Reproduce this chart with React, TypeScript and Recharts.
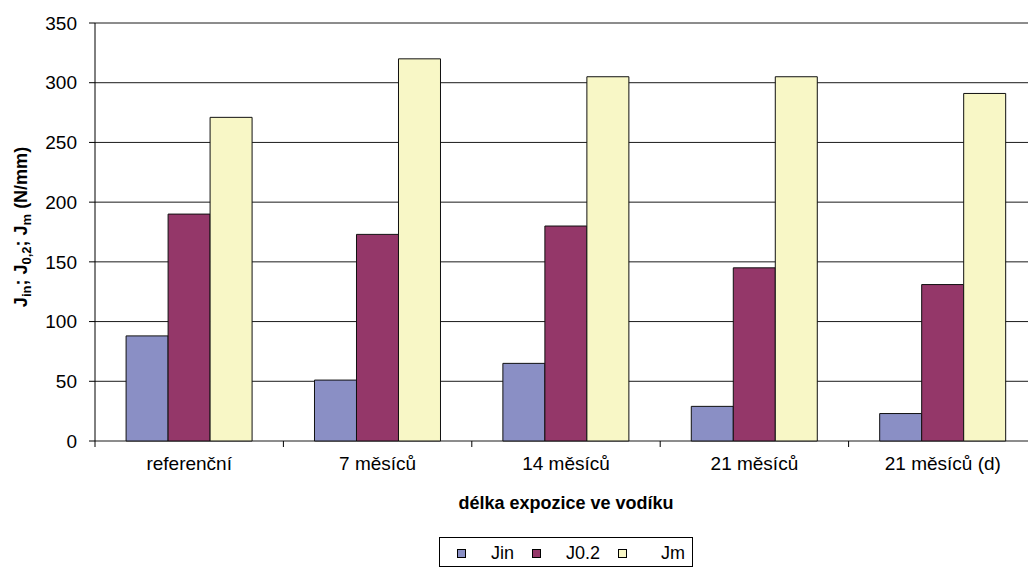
import React from "react";
import { BarChart, Bar, XAxis, YAxis, CartesianGrid } from "recharts";

const categories = ["referenční", "7 měsíců", "14 měsíců", "21 měsíců", "21 měsíců (d)"];
const jin = [88, 51, 65, 29, 23];
const j02 = [190, 173, 180, 145, 131];
const jm = [271, 320, 305, 305, 291];
const yTicks = [0, 50, 100, 150, 200, 250, 300, 350];

const seriesNames = ["Jin", "J0,2", "Jm"];
const legendLabels = ["Jin", "J0.2", "Jm"];
const colors = ["#8A8FC5", "#943769", "#F8F7C6"];

const data = categories.map((c, i) => ({ name: c, jin: jin[i], j02: j02[i], jm: jm[i] }));

const FONT = "'Liberation Sans', Arial, sans-serif";
const TICK_MARGIN = 16;

const CatTick = (props: any) => {
  const { x, y, payload, width, visibleTicksCount, index } = props;
  const n = visibleTicksCount || categories.length;
  const band = width / n;
  const axisY = y - TICK_MARGIN;
  const left = x - band / 2;
  const right = x + band / 2;
  return (
    <g>
      <line x1={left} x2={left} y1={axisY} y2={axisY + 6} stroke="#000" />
      {index === n - 1 && <line x1={right} x2={right} y1={axisY} y2={axisY + 6} stroke="#000" />}
      <text x={x} y={y} dy="0.71em" textAnchor="middle" fontFamily={FONT} fontSize={19} fill="#000">
        {payload.value}
      </text>
    </g>
  );
};

const YLabel = (props: any) => {
  const vb = props.viewBox || { x: 0, y: 0, width: 0, height: 0 };
  const cx = 21;
  const cy = vb.y + vb.height / 2 - 5;
  return (
    <text
      x={cx}
      y={cy}
      transform={`rotate(-90 ${cx} ${cy})`}
      textAnchor="middle"
      dominantBaseline="central"
      fontFamily={FONT}
      fontWeight="bold"
      fontSize={18}
      fill="#000"
    >
      <tspan>J</tspan>
      <tspan fontSize={13} dy={5}>in</tspan>
      <tspan dy={-5}>; J</tspan>
      <tspan fontSize={13} dy={5}>0,2</tspan>
      <tspan dy={-5}>; J</tspan>
      <tspan fontSize={13} dy={5}>m</tspan>
      <tspan dy={-5}> (N/mm)</tspan>
    </text>
  );
};

const XLabel = (props: any) => {
  const vb = props.viewBox || { x: 0, y: 0, width: 0, height: 0 };
  return (
    <text
      x={vb.x + vb.width / 2}
      y={vb.y + 68}
      textAnchor="middle"
      fontFamily={FONT}
      fontWeight="bold"
      fontSize={18}
      fill="#000"
    >
      délka expozice ve vodíku
    </text>
  );
};

export default function App() {
  const legendPos = [
    { sq: 457, tx: 491 },
    { sq: 532, tx: 566 },
    { sq: 618, tx: 661 },
  ];
  return (
    <div style={{ position: "absolute", left: 0, top: 0, width: 1028, height: 568, overflow: "hidden", background: "#fff" }}>
      <BarChart
        width={1045}
        height={568}
        data={data}
        margin={{ top: 23, right: 8, left: 0, bottom: 0 }}
        barCategoryGap="16.5%"
        barGap={0}
      >
        <CartesianGrid vertical={false} stroke="#1a1a1a" strokeWidth={1} />
        <XAxis
          dataKey="name"
          type="category"
          tickLine={false}
          tickSize={0}
          tickMargin={TICK_MARGIN}
          height={127}
          axisLine={false}
          tick={<CatTick />}
          interval={0}
          label={<XLabel />}
        />
        <YAxis
          domain={[0, 350]}
          ticks={yTicks}
          width={95}
          tickSize={6}
          tickMargin={12}
          axisLine={{ stroke: "#000" }}
          tickLine={{ stroke: "#000" }}
          tick={{ fill: "#000", fontSize: 19, fontFamily: FONT }}
          label={<YLabel />}
        />
        <Bar dataKey="jin" name={seriesNames[0]} fill={colors[0]} stroke="#111" strokeWidth={1} isAnimationActive={false} />
        <Bar dataKey="j02" name={seriesNames[1]} fill={colors[1]} stroke="#111" strokeWidth={1} isAnimationActive={false} />
        <Bar dataKey="jm" name={seriesNames[2]} fill={colors[2]} stroke="#111" strokeWidth={1} isAnimationActive={false} />
      </BarChart>
      <div
        style={{
          position: "absolute",
          left: 439,
          top: 537,
          width: 254,
          height: 30,
          border: "1px solid #000",
          boxSizing: "border-box",
          background: "#fff",
        }}
      >
        {legendLabels.map((l, i) => (
          <React.Fragment key={l}>
            <div
              style={{
                position: "absolute",
                left: legendPos[i].sq - 440,
                top: 11,
                width: 9,
                height: 9,
                border: "1px solid #000",
                background: colors[i],
                boxSizing: "border-box",
              }}
            />
            <div
              style={{
                position: "absolute",
                left: legendPos[i].tx - 440,
                top: 4,
                fontFamily: FONT,
                fontSize: 18,
                lineHeight: "22px",
                color: "#000",
                whiteSpace: "nowrap",
              }}
            >
              {l}
            </div>
          </React.Fragment>
        ))}
      </div>
    </div>
  );
}
